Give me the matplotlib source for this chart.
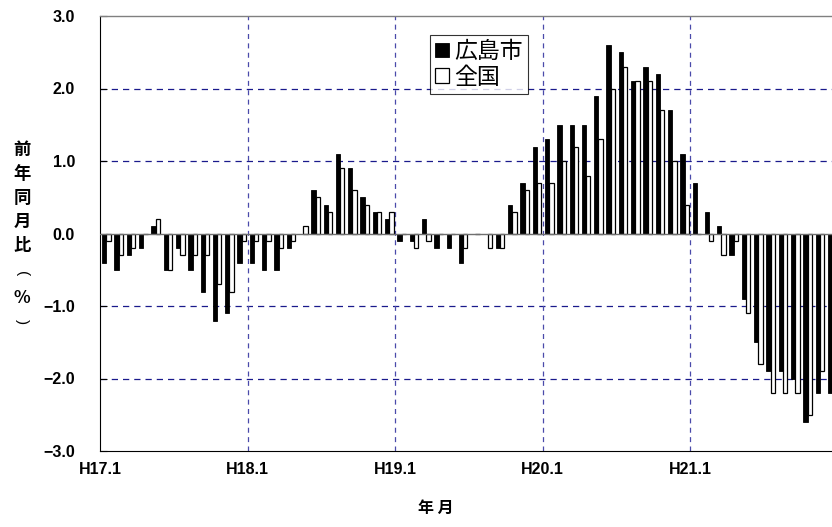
import matplotlib
matplotlib.use("Agg")
import matplotlib.pyplot as plt
import numpy as np

plt.rcParams['font.family'] = ['Noto Sans CJK JP', 'DejaVu Sans']

# ---- data (year-on-year CPI change, %) ----
months = list(range(60))  # H17.1 .. H21.12
hiroshima = [
    -0.4, -0.5, -0.3, -0.2, 0.1, -0.5, -0.2, -0.5, -0.8, -1.2, -1.1, -0.4,   # H17
    -0.4, -0.5, -0.5, -0.2, 0.0, 0.6, 0.4, 1.1, 0.9, 0.5, 0.3, 0.2,          # H18
    -0.1, -0.1, 0.2, -0.2, -0.2, -0.4, 0.0, 0.0, -0.2, 0.4, 0.7, 1.2,        # H19
    1.3, 1.5, 1.5, 1.5, 1.9, 2.6, 2.5, 2.1, 2.3, 2.2, 1.7, 1.1,              # H20
    0.7, 0.3, 0.1, -0.3, -0.9, -1.5, -1.9, -1.9, -2.0, -2.6, -2.2, -2.2,     # H21
]
zenkoku = [
    -0.1, -0.3, -0.2, 0.0, 0.2, -0.5, -0.3, -0.3, -0.3, -0.7, -0.8, -0.1,
    -0.1, -0.1, -0.2, -0.1, 0.1, 0.5, 0.3, 0.9, 0.6, 0.4, 0.3, 0.3,
    0.0, -0.2, -0.1, 0.0, 0.0, -0.2, 0.0, -0.2, -0.2, 0.3, 0.6, 0.7,
    0.7, 1.0, 1.2, 0.8, 1.3, 2.0, 2.3, 2.1, 2.1, 1.7, 1.0, 0.4,
    0.0, -0.1, -0.3, -0.1, -1.1, -1.8, -2.2, -2.2, -2.2, -2.5, -1.9, -1.7,
]
series_names = ['広島市', '全国']
xtick_pos = [0, 12, 24, 36, 48]
xtick_labels = ['H17.1', 'H18.1', 'H19.1', 'H20.1', 'H21.1']
ytick_vals = [-3, -2, -1, 0, 1, 2, 3]
ylabel_chars = ['前', '年', '同', '月', '比', '(', '%', ')']
xlabel_text = '年 月'

W, H = 832, 527
fig = plt.figure(figsize=(W / 100, H / 100), dpi=100)
# axes extends slightly past the right edge (last month clipped as in original)
ax = fig.add_axes([100 / W, (H - 451) / H, 738 / W, 435 / H])

x = np.array(months, dtype=float)
bw = 0.35
b1 = ax.bar(x + 0.35, hiroshima, width=bw, color='black', edgecolor='black',
            linewidth=0.6, label=series_names[0], zorder=3)
b2 = ax.bar(x + 0.35 + bw, zenkoku, width=bw, color='white', edgecolor='black',
            linewidth=0.9, label=series_names[1], zorder=3)

ax.set_xlim(0, 60)
ax.set_ylim(-3, 3)

# grid
for yv in [-2, -1, 1, 2]:
    ax.axhline(yv, color='#1a1a8c', linestyle=(0, (5, 4)), linewidth=0.9, zorder=1)
for xv in xtick_pos[1:]:
    ax.axvline(xv, color='#4a4aaa', linestyle=(0, (4, 3.5)), linewidth=0.9, zorder=1)
ax.axhline(0, color='#707070', linewidth=1.0, zorder=4)

ax.spines['top'].set_color('#808080')
ax.spines['top'].set_linewidth(1.0)
ax.spines['right'].set_visible(False)
ax.spines['left'].set_color('black')
ax.spines['bottom'].set_color('black')

ax.set_yticks(ytick_vals)
ax.set_yticklabels([f"{v:.1f}".replace('-', '\u2212') for v in ytick_vals])
ax.set_xticks(xtick_pos)
ax.set_xticklabels(xtick_labels)
ax.tick_params(axis='y', direction='in', length=5, pad=18, labelsize=11.5)
ax.tick_params(axis='x', direction='in', length=0, pad=8, labelsize=11.5)
for lab in ax.get_xticklabels() + ax.get_yticklabels():
    lab.set_fontfamily(['Liberation Sans', 'DejaVu Sans'])
    lab.set_fontweight('bold')

ax.set_xlabel(xlabel_text, fontsize=11.5, fontweight='bold')
ax.xaxis.set_label_coords((436 - 100) / 738, -0.112)

# vertical stacked y label (parentheses turned for vertical writing)
ypos = [150, 174, 198, 222, 246, 274, 298, 322]
for ch, yp in zip(ylabel_chars, ypos):
    if ch in '()':
        fig.text(22 / W, 1 - yp / H, ch, ha='center', va='center',
                 fontsize=11, rotation=-90,
                 family=['Liberation Sans', 'DejaVu Sans'])
    else:
        fig.text(22 / W, 1 - yp / H, ch, ha='center', va='center',
                 fontsize=12.5, fontweight='bold')

leg = ax.legend(handles=[b1, b2], labels=series_names, loc='upper left',
                bbox_to_anchor=((430 - 100) / 738, (451 - 35) / 435),
                prop={'size': 16.5},
                frameon=True, fancybox=False, edgecolor='black',
                handlelength=0.6, handleheight=0.6, handletextpad=0.25,
                borderpad=0.22, labelspacing=0.12, borderaxespad=0)
leg.get_frame().set_linewidth(0.8)
leg.set_zorder(6)

fig.savefig('out.png', dpi=100)
